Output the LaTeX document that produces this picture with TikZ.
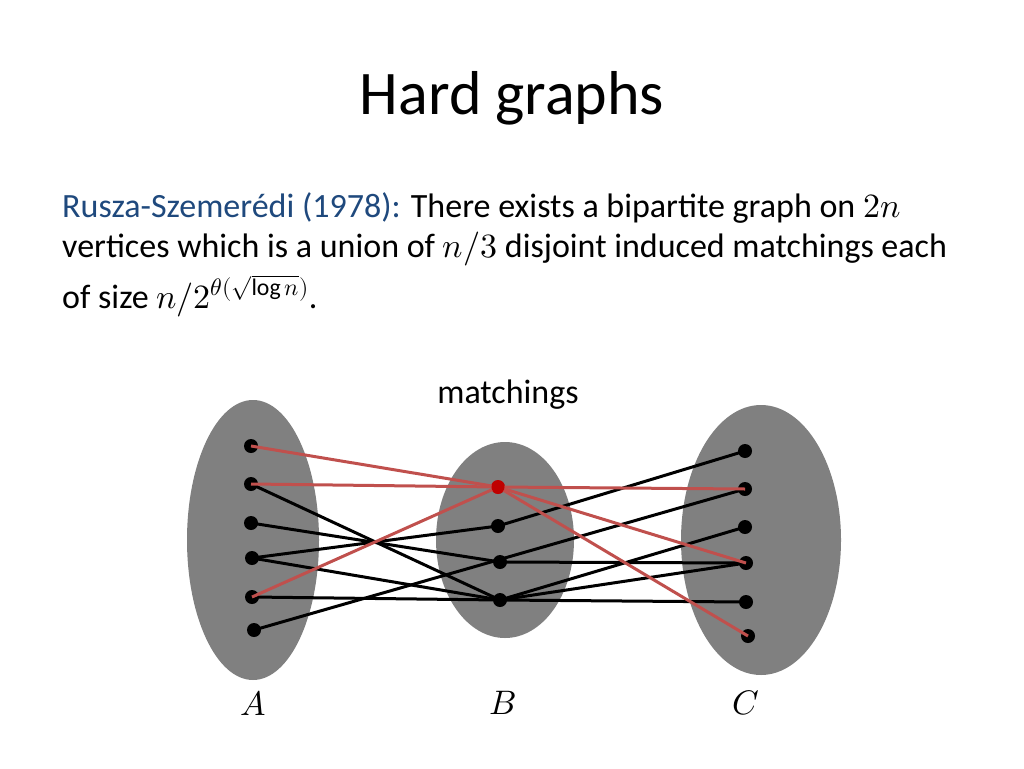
\documentclass[tikz,border=0pt]{standalone}
\usepackage{fontspec}
\usepackage{unicode-math}
\setmainfont{Carlito}
\setmathfont{Latin Modern Math}
\definecolor{setgray}{RGB}{128,128,128}
\definecolor{matchred}{RGB}{192,80,77}
\definecolor{headblue}{RGB}{31,73,125}
\tikzset{
  vert/.style={circle, fill=black, inner sep=0pt, minimum size=14pt},
  blk/.style={line width=3pt, black},
  rd/.style={line width=3pt, matchred},
  txt/.style={anchor=base west, inner sep=0pt, font=\fontsize{34}{40}\selectfont}
}
\begin{document}
\begin{tikzpicture}[x=1pt, y=-1pt]
  \useasboundingbox (0,0) rectangle (1024,768);
  % title and text
  \node[font=\fontsize{62}{70}\selectfont] (title) at (512,98) {Hard graphs};
  \node[txt] (l1) at (62,217) {\textcolor{headblue}{Rusza-Szemerédi (1978):} There exists a bipartite graph on $2n$};
  \node[txt] (l2) at (62,257) {vertices which is a union of $n/3$ disjoint induced matchings each};
  \node[txt] (l3) at (62,308) {of size $n/2^{\theta(\sqrt{\log n})}$.};
  \node[font=\fontsize{34}{40}\selectfont] (mlabel) at (508,395) {matchings};
  % sets
  \fill[setgray] (253,540) ellipse (66 and 140);
  \fill[setgray] (505,540) ellipse (69 and 98);
  \fill[setgray] (761,540) ellipse (80 and 135);
  \node[font=\fontsize{34}{40}\selectfont] (la) at (253,703) {$A$};
  \node[font=\fontsize{34}{40}\selectfont] (lb) at (503,703) {$B$};
  \node[font=\fontsize{34}{40}\selectfont] (lc) at (746,703) {$C$};
  % vertices
  \foreach \i/\x/\y in {1/251/446, 2/251/484, 3/251/523, 4/252/558, 5/252/597, 6/254/630}
    \node[vert] (a\i) at (\x,\y) {};
  \foreach \i/\x/\y in {2/498/526, 3/500/562, 4/500/600}
    \node[vert] (b\i) at (\x,\y) {};
  \node[vert, fill=red!75!black] (b1) at (498,487) {};
  \foreach \i/\x/\y in {1/745/451, 2/745/489, 3/745/527, 4/746/563, 5/746/602, 6/748/636}
    \node[vert] (c\i) at (\x,\y) {};
  % edges
  \foreach \u/\v in {a2/b4, a3/b3, a4/b2, a4/b4, a5/b4, a6/c2, b2/c1, b3/c4, b4/c3, b4/c4, b4/c5}
    \draw[blk] (\u.center) -- (\v.center);
  % matching
  \foreach \u/\v in {a1/b1, a2/b1, a5/b1, b1/c2, b1/c4, b1/c6}
    \draw[rd] (\u.center) -- (\v.center);
  \node[vert, fill=red!75!black, minimum size=13pt] at (b1) {};
\end{tikzpicture}
\end{document}
